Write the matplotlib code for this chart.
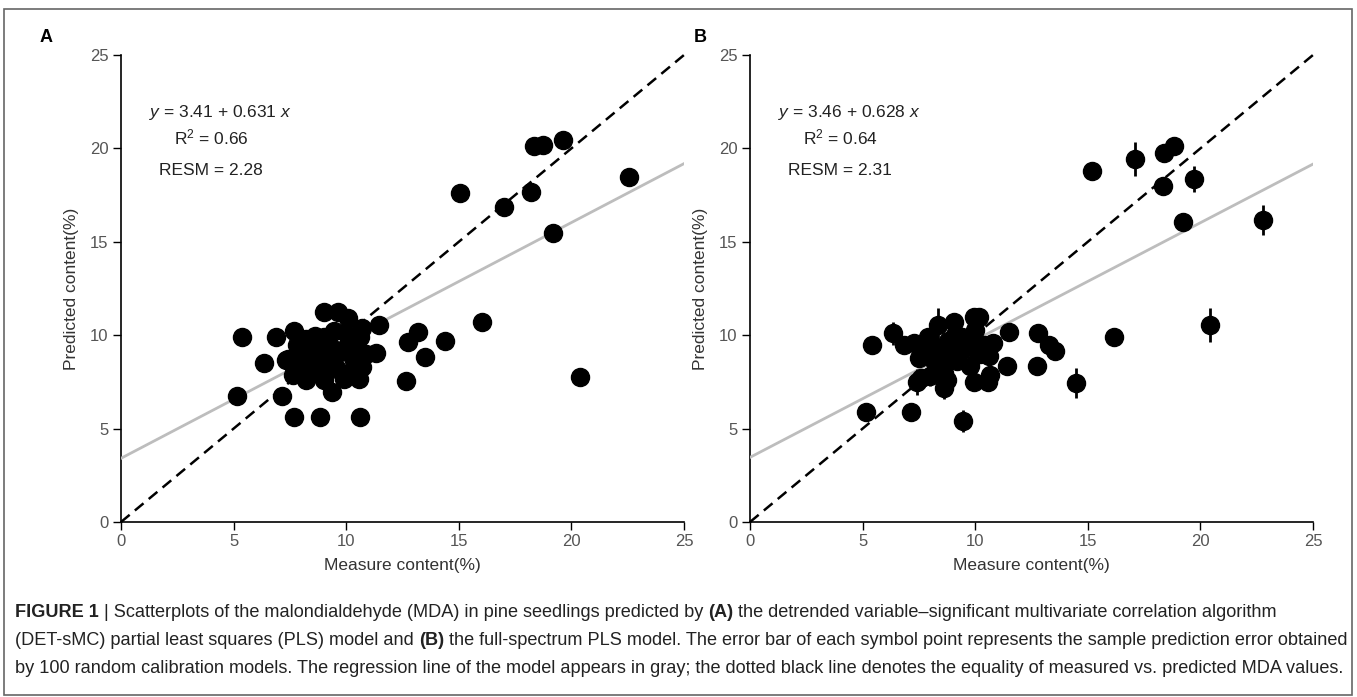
import numpy as np
import matplotlib
matplotlib.use('Agg')
import matplotlib.pyplot as plt
from matplotlib import font_manager
from matplotlib.patches import Rectangle

# Panel A: DET-sMC PLS model (measured, predicted)
a_meas = [5.38, 5.16, 6.34, 6.89, 7.67, 7.33, 7.15, 7.67, 8.83, 10.6,
          9.03, 9.62, 10.06, 10.72, 11.46, 11.31, 9.39, 9.91, 10.55, 10.72,
          9.98, 9.03, 8.22, 7.63, 12.64, 12.74, 13.19, 13.5, 14.38, 16.03,
          15.07, 16.99, 18.22, 18.35, 18.76, 19.62, 19.2, 22.57, 20.4,
          7.8, 8.2, 8.5, 8.8, 9.0, 9.3, 9.5, 9.8, 10.1, 10.3, 10.5, 8.0, 8.4,
          8.7, 9.1, 9.6, 10.2, 8.3, 7.7, 8.9, 9.2, 10.6, 8.1, 7.4, 8.6, 9.45,
          10.9, 10.4]
a_pred = [9.89, 6.76, 8.49, 9.89, 10.24, 8.67, 6.76, 5.60, 5.60, 5.60,
          11.26, 11.26, 10.9, 10.37, 10.55, 9.03, 6.98, 7.66, 7.66, 8.28,
          10.1, 7.6, 7.6, 7.87, 7.57, 9.62, 10.16, 8.82, 9.69, 10.72,
          17.63, 16.88, 17.68, 20.13, 20.18, 20.45, 15.49, 18.45, 7.76,
          9.5, 9.8, 9.2, 9.6, 9.9, 9.4, 8.9, 9.2, 9.5, 8.8, 9.3, 8.8, 8.3,
          8.6, 8.4, 8.2, 8.0, 8.0, 8.3, 7.9, 8.9, 9.9, 9.1, 8.7, 9.95, 10.2,
          9.0, 8.3]

# Panel B: full-spectrum PLS model (measured, predicted, prediction error)
b_meas = [5.16, 5.41, 6.34, 7.14, 6.86, 7.41, 8.33, 9.07, 9.45, 9.93,
          10.15, 9.75, 9.96, 10.59, 10.64, 10.81, 11.41, 11.48, 12.77, 12.74,
          13.26, 13.56, 14.49, 16.15, 15.19, 17.08, 18.4, 18.81, 18.32, 19.73,
          19.23, 20.41, 22.76, 8.74, 8.6,
          7.5, 7.8, 8.0, 8.2, 8.4, 8.6, 8.8, 9.0, 9.2, 9.4, 9.6, 9.9, 10.2,
          10.4, 10.6, 8.0, 8.3, 7.6, 9.1, 10.0, 8.9, 7.3, 7.9]
b_pred = [5.91, 9.48, 10.1, 5.91, 9.48, 7.51, 10.55, 10.72, 5.42, 10.99,
          10.99, 8.35, 7.51, 7.51, 7.87, 9.56, 8.35, 10.19, 10.1, 8.35,
          9.48, 9.15, 7.46, 9.89, 18.81, 19.42, 19.74, 20.13, 18.0, 18.35,
          16.04, 10.55, 16.17, 7.6, 7.2,
          8.8, 9.5, 9.0, 8.5, 9.3, 8.0, 9.7, 9.2, 8.6, 9.9, 9.3, 9.7, 9.0,
          9.5, 8.9, 7.8, 8.2, 7.7, 10.0, 10.3, 8.8, 9.6, 9.9]
b_err = [0.3, 0.3, 0.6, 0.3, 0.3, 0.7, 0.9, 0.4, 0.6, 0.3,
         0.3, 0.3, 0.3, 0.3, 0.3, 0.5, 0.3, 0.3, 0.3, 0.3,
         0.3, 0.3, 0.8, 0.3, 0.3, 0.9, 0.3, 0.3, 0.4, 0.7,
         0.3, 0.9, 0.8, 0.8, 0.6,
         0.4, 0.3, 0.4, 0.5, 0.3, 0.4, 0.3, 0.4, 0.3, 0.3, 0.3, 0.3, 0.3,
         0.3, 0.3, 0.5, 0.4, 0.5, 0.3, 0.3, 0.3, 0.3, 0.3]

# intercept, slope, R2, RESM
fit_a = (3.41, 0.631, 0.66, 2.28)
fit_b = (3.46, 0.628, 0.64, 2.31)

ticks = [0, 5, 10, 15, 20, 25]

plt.rcParams['font.family'] = ['Liberation Sans', 'DejaVu Sans']
plt.rcParams['mathtext.fontset'] = 'custom'
plt.rcParams['mathtext.rm'] = 'Liberation Sans'
plt.rcParams['mathtext.it'] = 'Liberation Sans:italic'

W, H = 1357, 697
fig = plt.figure(figsize=(W / 100, H / 100), dpi=100)


def panel(left, fit):
    ax = fig.add_axes([left / W, 1 - 522 / H, 563 / W, 467 / H])
    ax.set_xlim(0, 25)
    ax.set_ylim(0, 25)
    for s in ['top', 'right']:
        ax.spines[s].set_visible(False)
    for s in ['left', 'bottom']:
        ax.spines[s].set_linewidth(1.2)
    ax.set_xticks(ticks)
    ax.set_yticks(ticks)
    ax.tick_params(direction='out', length=6, width=1, labelsize=12,
                   labelcolor='#555555', pad=3)
    xs = np.array([0, 25])
    ax.plot(xs, xs, color='black', lw=1.8, ls=(0, (4.5, 2.7)), zorder=3, clip_on=False)
    ax.plot(xs, fit[0] + fit[1] * xs, color='#bdbdbd', lw=2, zorder=3)
    ax.set_xlabel('Measure content(%)', fontsize=12.5, color='#333333', labelpad=6)
    ax.set_ylabel('Predicted content(%)', fontsize=12.5, color='#333333', labelpad=8)
    ax.text(4.4, 21.9, r'$y$ = %.2f + %.3f $x$' % (fit[0], fit[1]), ha='center',
            va='center', fontsize=12.5, color='#222222')
    ax.text(4.0, 20.6, 'R$^2$ = %.2f' % fit[2], ha='center', va='center',
            fontsize=12.5, color='#222222')
    ax.text(4.0, 18.8, 'RESM = %.2f' % fit[3], ha='center', va='center',
            fontsize=12.5, color='#222222')
    return ax


ax_a = panel(121, fit_a)
ax_a.plot(a_meas, a_pred, 'o', color='black', ms=13, zorder=4)

ax_b = panel(750, fit_b)
ax_b.errorbar(b_meas, b_pred, yerr=b_err, fmt='o', color='black', ms=13,
              elinewidth=2, capsize=0, zorder=4)

fig.text(40 / W, 1 - 37 / H, 'A', fontsize=13, fontweight='bold', va='center')
fig.text(694 / W, 1 - 37 / H, 'B', fontsize=13, fontweight='bold', va='center')

# caption with bold pieces
names = {f.name for f in font_manager.fontManager.ttflist}
cap_font = 'Liberation Sans Narrow' if 'Liberation Sans Narrow' in names else 'Liberation Sans'

cap_lines = [
    [('FIGURE 1', 'bold'), (' | Scatterplots of the malondialdehyde (MDA) in pine seedlings predicted by ', 'normal'),
     ('(A)', 'bold'), (' the detrended variable\u2013significant multivariate correlation algorithm', 'normal')],
    [('(DET-sMC) partial least squares (PLS) model and ', 'normal'), ('(B)', 'bold'),
     (' the full-spectrum PLS model. The error bar of each symbol point represents the sample prediction error obtained', 'normal')],
    [('by 100 random calibration models. The regression line of the model appears in gray; the dotted black line denotes the equality of measured vs. predicted MDA values.', 'normal')],
]
renderer = fig.canvas.get_renderer()


def draw_line(pieces, y, size, keep=True):
    x = 15 / W
    made = []
    for s, w in pieces:
        t = fig.text(x, y, s, fontsize=size, fontweight=w, family=cap_font,
                     color='#222222', va='baseline')
        x += t.get_window_extent(renderer).width / W
        made.append(t)
    if not keep:
        for t in made:
            t.remove()
    return x * W - 15


size = 12.0
width = draw_line(cap_lines[2], 0.5, size, keep=False)
size = size * 1330 / width
for i, line in enumerate(cap_lines):
    draw_line(line, 1 - (617 + 28 * i) / H, size)

fig.add_artist(Rectangle((4 / W, 2 / H), 1348 / W, 686 / H, transform=fig.transFigure,
                         fill=False, ec='#666666', lw=1.2))

fig.savefig('out.png', dpi=100)
